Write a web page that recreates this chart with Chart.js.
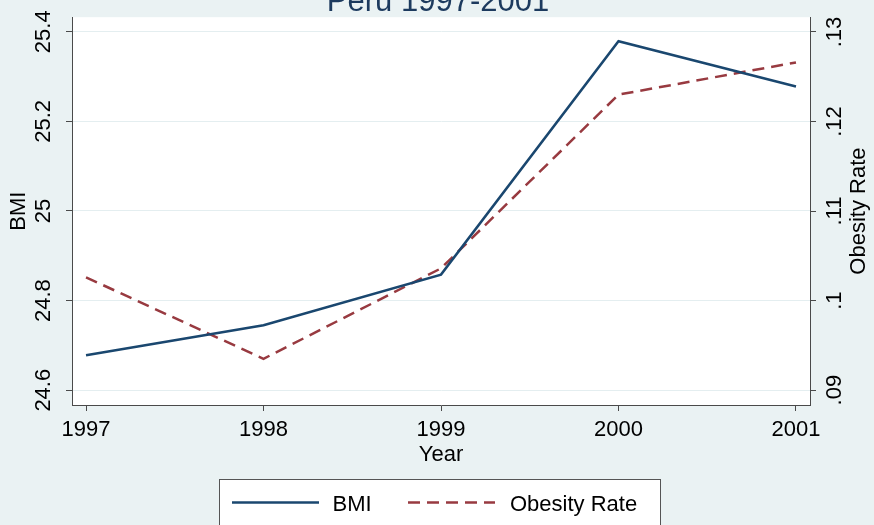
<!DOCTYPE html>
<html>
<head>
<meta charset="utf-8">
<script src="https://cdn.jsdelivr.net/npm/chart.js@4.4.1/dist/chart.umd.min.js"></script>
<style>
  html, body { margin: 0; padding: 0; background: #eaf2f3; overflow: hidden; }
  canvas { display: block; }
</style>
</head>
<body>
<canvas id="c" width="874" height="525"></canvas>
<script>
// Survey years and yearly averages
const years = [1997, 1998, 1999, 2000, 2001];
const bmi = [24.678, 24.745, 24.858, 25.379, 25.278];
const obesityRate = [0.1026, 0.0935, 0.1036, 0.1230, 0.1266];

// Axis ticks and their printed labels
const bmiTicks = [24.6, 24.8, 25.0, 25.2, 25.4];
const bmiTickLabels = ['24.6', '24.8', '25', '25.2', '25.4'];
const rateTicks = [0.09, 0.10, 0.11, 0.12, 0.13];
const rateTickLabels = ['.09', '.1', '.11', '.12', '.13'];
const yearTickLabels = ['1997', '1998', '1999', '2000', '2001'];

const titleText = 'Peru 1997-2001';
const seriesNames = ['BMI', 'Obesity Rate'];
const axisTitles = { x: 'Year', left: 'BMI', right: 'Obesity Rate' };

const FONT = "'Liberation Sans', Arial, Helvetica, sans-serif";
const BG = '#eaf2f3';
const AXIS = '#4a4a4a';
const NAVY = '#1a476f';
const MAROON = '#983a40';

Chart.defaults.font.family = FONT;
Chart.defaults.color = '#000';

// Page furniture: backdrop, white plot region, title, right axis title, legend box
const frame = {
  id: 'frame',
  beforeDraw(chart) {
    const { ctx, chartArea: a, width, height } = chart;
    ctx.save();
    ctx.fillStyle = BG;
    ctx.fillRect(0, 0, width, height);
    ctx.fillStyle = '#ffffff';
    ctx.fillRect(a.left, a.top, a.right - a.left, a.bottom - a.top);
    ctx.restore();
  },
  afterDraw(chart) {
    const { ctx, width } = chart;
    const a = chart.chartArea;
    ctx.save();

    // chart title
    ctx.fillStyle = '#1c3a5e';
    ctx.font = '31px ' + FONT;
    ctx.textAlign = 'center';
    ctx.textBaseline = 'alphabetic';
    ctx.fillText(titleText, width / 2 + 1, 11);

    // right axis title, reading upwards
    ctx.save();
    ctx.translate(chart.scales.y1.right - 15.5, (a.top + a.bottom) / 2);
    ctx.rotate(-Math.PI / 2);
    ctx.fillStyle = '#000';
    ctx.font = '22px ' + FONT;
    ctx.textAlign = 'center';
    ctx.textBaseline = 'middle';
    ctx.fillText(axisTitles.right, 0, 0);
    ctx.restore();

    // legend
    const bx = 219.5, by = 479.5, bw = 441, bh = 80;
    ctx.fillStyle = '#ffffff';
    ctx.fillRect(bx, by, bw, bh);
    ctx.strokeStyle = '#555';
    ctx.lineWidth = 1;
    ctx.strokeRect(bx, by, bw, bh);

    const items = [
      { x0: 232, x1: 319, tx: 332.5 },
      { x0: 408, x1: 495, tx: 510 }
    ];
    const ly = 502.5;
    ctx.font = '22px ' + FONT;
    ctx.textAlign = 'left';
    ctx.textBaseline = 'middle';
    chart.data.datasets.forEach((ds, i) => {
      const it = items[i];
      ctx.beginPath();
      ctx.strokeStyle = ds.borderColor;
      ctx.lineWidth = ds.borderWidth;
      ctx.setLineDash(ds.borderDash || []);
      ctx.moveTo(it.x0, ly);
      ctx.lineTo(it.x1, ly);
      ctx.stroke();
      ctx.setLineDash([]);
      ctx.fillStyle = '#000';
      ctx.fillText(ds.label, it.tx, ly + 2);
    });
    ctx.restore();
  }
};

const tickFont = { size: 22 };

new Chart(document.getElementById('c'), {
  type: 'line',
  data: {
    datasets: [
      {
        label: seriesNames[0],
        data: years.map((yr, i) => ({ x: yr, y: bmi[i] })),
        yAxisID: 'y',
        borderColor: NAVY,
        backgroundColor: NAVY,
        borderWidth: 2.5,
        pointRadius: 0,
        tension: 0,
        fill: false
      },
      {
        label: seriesNames[1],
        data: years.map((yr, i) => ({ x: yr, y: obesityRate[i] })),
        yAxisID: 'y1',
        borderColor: MAROON,
        backgroundColor: MAROON,
        borderWidth: 2.5,
        borderDash: [12, 7],
        pointRadius: 0,
        tension: 0,
        fill: false
      }
    ]
  },
  options: {
    responsive: false,
    animation: false,
    devicePixelRatio: 1,
    layout: { padding: { top: 14, left: 0, right: 0, bottom: 50 } },
    plugins: {
      legend: { display: false },
      title: { display: false },
      tooltip: { enabled: false }
    },
    scales: {
      x: {
        type: 'linear',
        min: 1996.921,
        max: 2001.079,
        afterBuildTicks: (s) => { s.ticks = years.map(v => ({ value: v })); },
        afterFit: (s) => { s.height = 70; },
        ticks: {
          font: tickFont,
          padding: 6,
          maxRotation: 0,
          callback: (v, i) => yearTickLabels[i]
        },
        grid: { drawOnChartArea: false, drawTicks: true, tickLength: 6, tickColor: AXIS },
        border: { display: true, color: AXIS, width: 1 },
        title: { display: true, text: axisTitles.x, font: { size: 22 }, padding: { top: 0, bottom: 7 } }
      },
      y: {
        type: 'linear',
        position: 'left',
        min: 24.567,
        max: 25.4325,
        afterBuildTicks: (s) => { s.ticks = bmiTicks.map(v => ({ value: v })); },
        afterFit: (s) => { s.width = 72; },
        ticks: {
          font: tickFont,
          minRotation: 90,
          maxRotation: 90,
          crossAlign: 'center',
          padding: 1,
          callback: (v, i) => bmiTickLabels[i]
        },
        grid: { drawOnChartArea: true, color: '#e4eef0', lineWidth: 1, drawTicks: true, tickLength: 6, tickColor: AXIS },
        border: { display: true, color: AXIS, width: 1 },
        title: { display: true, text: axisTitles.left, font: { size: 22 }, padding: { top: 5.5, bottom: 0 } }
      },
      y1: {
        type: 'linear',
        position: 'right',
        min: 0.08834,
        max: 0.13165,
        afterBuildTicks: (s) => { s.ticks = rateTicks.map(v => ({ value: v })); },
        afterFit: (s) => { s.width = 64; },
        ticks: {
          font: tickFont,
          minRotation: 90,
          maxRotation: 90,
          crossAlign: 'center',
          padding: 4,
          callback: (v, i) => rateTickLabels[i]
        },
        grid: { drawOnChartArea: false, drawTicks: true, tickLength: 6, tickColor: AXIS },
        border: { display: true, color: AXIS, width: 1 }
      }
    }
  },
  plugins: [frame]
});
</script>
</body>
</html>
